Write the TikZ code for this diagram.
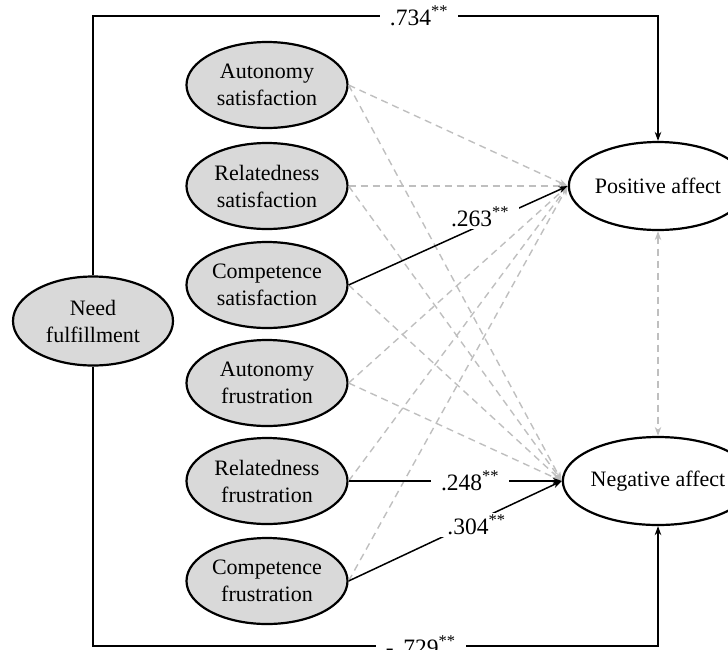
\documentclass[tikz,border=0pt]{standalone}
\usepackage{fontspec}
\setmainfont{Liberation Serif}
\usetikzlibrary{shapes,arrows.meta,calc}
\definecolor{pathgray}{RGB}{191,191,191}
\definecolor{latentgray}{RGB}{217,217,217}

\begin{document}
\begin{tikzpicture}[x=1pt, y=-1pt, >={Stealth[length=9pt,width=6.5pt]},
    every node/.append style={font=\fontsize{22}{27}\selectfont},
    latent/.style={ellipse, draw, line width=2.2pt, fill=latentgray, minimum width=161pt, minimum height=86pt, inner sep=0pt, align=center},
    outcome/.style={ellipse, draw, line width=2.2pt, fill=white, minimum width=162pt, minimum height=88pt, inner sep=0pt},
    sig/.style={->, line width=1.5pt},
    nonsig/.style={->, pathgray, line width=1.4pt, dash pattern=on 7pt off 5pt},
    coef/.style={fill=white, inner xsep=10pt, inner ysep=2pt, font=\fontsize{23.5}{27}\selectfont}]
    \useasboundingbox (0,0) rectangle (728,649);
    \node (need)[latent, minimum width=160pt, minimum height=89pt] at (93,321) {Need\\fulfillment};
    \node (autsat)[latent] at (267,85) {Autonomy\\satisfaction};
    \node (relsat)[latent] at (267,186) {Relatedness\\satisfaction};
    \node (comsat)[latent] at (267,285) {Competence\\satisfaction};
    \node (autfru)[latent] at (267,383) {Autonomy\\frustration};
    \node (relfru)[latent] at (267,481) {Relatedness\\frustration};
    \node (comfru)[latent] at (267,581) {Competence\\frustration};
    \node (pos)[outcome] at (658,186) {Positive affect};
    \node (neg)[outcome] at (658,481) {Negative affect};
    \coordinate (top) at (0,16);
    \coordinate (bottom) at (0,646);
    % non-significant paths
    \foreach \src in {autsat,relsat,autfru,relfru,comfru}
      \draw[nonsig] (\src.east) -- (pos.west);
    \foreach \src in {autsat,relsat,comsat,autfru}
      \draw[nonsig] (\src.east) -- (neg.west);
    \draw[nonsig, <->] (pos.south) -- (neg.north);
    % significant paths
    \draw[sig] (comsat.east) -- node[coef, pos=0.6, yshift=9pt] {.263\textsuperscript{**}} (pos.west);
    \draw[sig] (relfru.east) -- node[coef, pos=0.57] {.248\textsuperscript{**}} (neg.west);
    \draw[sig] (comfru.east) -- node[coef, pos=0.6, yshift=-4pt] {.304\textsuperscript{**}} (neg.west);
    \draw[sig] (need.north) -- (need.north |- top) -- node[coef, pos=0.577] {.734\textsuperscript{**}} (pos.north |- top) -- (pos.north);
    \draw[sig] (need.south) -- (need.south |- bottom) -- node[coef, pos=0.58] {-\,.729\textsuperscript{**}} (neg.south |- bottom) -- (neg.south);
\end{tikzpicture}
\end{document}
